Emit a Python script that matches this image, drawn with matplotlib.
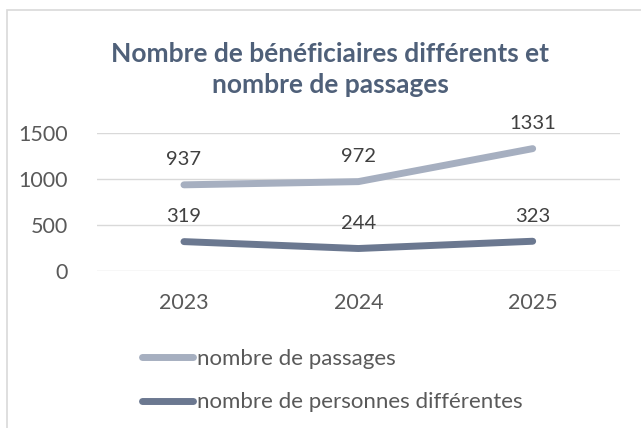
import matplotlib.pyplot as plt
from matplotlib.patches import Rectangle

plt.rcParams['font.family'] = ['Lato', 'DejaVu Sans']

annees = ['2023', '2024', '2025']
passages = [937, 972, 1331]
personnes = [319, 244, 323]
y_ticks = [0, 500, 1000, 1500]

c_pass = '#A6AFC0'
c_pers = '#6B7890'
c_text = '#595959'

fig = plt.figure(figsize=(6.41, 4.28), dpi=100)
fig.patches.append(Rectangle((0.011, -0.05), 1.1, 1.027, transform=fig.transFigure,
                             fill=False, edgecolor='#D9D9D9', linewidth=1.2))

ax = fig.add_axes([0.151, 0.367, 0.816, 0.322])
x = range(len(annees))
ax.plot(x, passages, color=c_pass, linewidth=5, solid_capstyle='round', label='nombre de passages')
ax.plot(x, personnes, color=c_pers, linewidth=5, solid_capstyle='round', label='nombre de personnes différentes')

for serie in (passages, personnes):
    for xi, v in zip(x, serie):
        ax.annotate(str(v), (xi, v), xytext=(0, 12), textcoords='offset points',
                    ha='center', va='bottom', fontsize=14.5, color='#404040',
                    annotation_clip=False)

ax.set_xlim(-0.5, 2.5)
ax.set_ylim(0, 1500)
ax.set_yticks(y_ticks)
ax.set_xticks(list(x))
ax.set_xticklabels(annees)
ax.grid(axis='y', color='#D9D9D9', linewidth=1)
ax.set_axisbelow(True)
for s in ax.spines.values():
    s.set_visible(False)
ax.tick_params(length=0, labelsize=15.5, labelcolor=c_text)
ax.tick_params(axis='x', pad=16)
ax.tick_params(axis='y', pad=21)

fig.text(0.515, 0.838, 'Nombre de bénéficiaires différents et\nnombre de passages',
         ha='center', va='center', fontsize=19, fontweight='bold', color='#4F6079',
         linespacing=1.35)

fig.legend(loc='upper left', bbox_to_anchor=(0.207, 0.205), frameon=False,
           fontsize=16, labelcolor=c_text, handlelength=2.3, handletextpad=0.2,
           labelspacing=1.05, borderaxespad=0)

fig.savefig('out.png', dpi=100)
